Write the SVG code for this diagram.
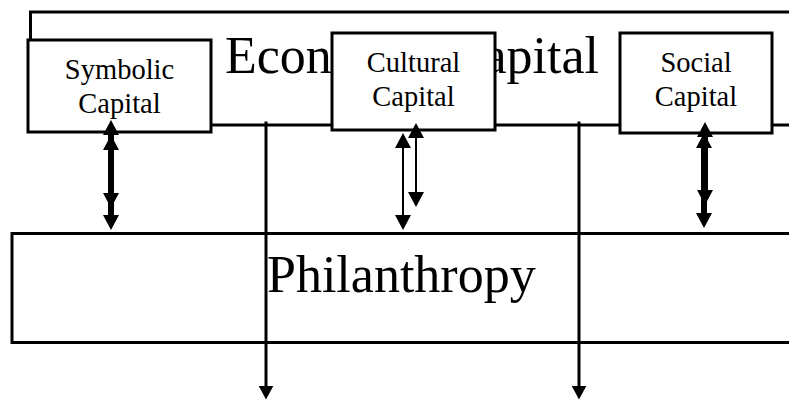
<svg xmlns="http://www.w3.org/2000/svg" width="789" height="401" viewBox="0 0 789 401">
<style>
.box{fill:#fff;stroke:#000;stroke-width:3}
.big{font-size:52px;fill:#000}
.lbl{font-size:28.5px;fill:#000;text-anchor:middle}
.thick{stroke:#000;stroke-width:6;fill:none}
.thin{stroke:#000;stroke-width:2;fill:none}
.vl{stroke:#000;stroke-width:3;fill:none}
</style>
<defs>
<marker id="ah" viewBox="0 0 10 10" refX="1" refY="5" markerWidth="15" markerHeight="16" markerUnits="userSpaceOnUse" orient="auto-start-reverse" preserveAspectRatio="none">
<path d="M0,0 L10,5 L0,10 z" fill="#000"/>
</marker>
<marker id="ahs" viewBox="0 0 10 10" refX="1" refY="5" markerWidth="14" markerHeight="15" markerUnits="userSpaceOnUse" orient="auto" preserveAspectRatio="none">
<path d="M0,0 L10,5 L0,10 z" fill="#000"/>
</marker>
</defs>
<g font-family="'Liberation Serif', 'Times New Roman', 'DejaVu Serif', serif">
<g id="economic-capital">
<rect class="box" x="30.5" y="12" width="790" height="113"/>
<text class="big" x="225" y="73">Economic Capital</text>
</g>
<g id="philanthropy">
<rect class="box" x="12" y="233.5" width="800" height="109"/>
<text class="big" x="267" y="292">Philanthropy</text>
</g>
<g id="symbolic-capital">
<rect class="box" x="28" y="40" width="183" height="92"/>
<text class="lbl" x="119.5" y="79">Symbolic</text>
<text class="lbl" x="119.5" y="113">Capital</text>
</g>
<g id="cultural-capital">
<rect class="box" x="332" y="33" width="163" height="97"/>
<text class="lbl" x="413.5" y="72">Cultural</text>
<text class="lbl" x="413.5" y="106">Capital</text>
</g>
<g id="social-capital">
<rect class="box" x="620" y="33" width="152" height="100"/>
<text class="lbl" x="696" y="72">Social</text>
<text class="lbl" x="696" y="106">Capital</text>
</g>
</g>
<g id="connectors">
<line class="vl" x1="266" y1="121.5" x2="266" y2="387" marker-end="url(#ahs)"/>
<line class="vl" x1="579" y1="121.5" x2="579" y2="387" marker-end="url(#ahs)"/>
<line class="thick" x1="111" y1="133.5" x2="111" y2="194.5" marker-start="url(#ah)" marker-end="url(#ah)"/>
<line class="thick" x1="111" y1="148.5" x2="111" y2="216.5" marker-start="url(#ah)" marker-end="url(#ah)"/>
<line class="thin" x1="416" y1="136.5" x2="416" y2="193.5" marker-start="url(#ah)" marker-end="url(#ah)"/>
<line class="thin" x1="403" y1="146.5" x2="403" y2="216.5" marker-start="url(#ah)" marker-end="url(#ah)"/>
<line class="thick" x1="705" y1="135.5" x2="705" y2="191.5" marker-start="url(#ah)" marker-end="url(#ah)"/>
<line class="thick" x1="704" y1="146.5" x2="704" y2="214.5" marker-start="url(#ah)" marker-end="url(#ah)"/>
</g>
</svg>
